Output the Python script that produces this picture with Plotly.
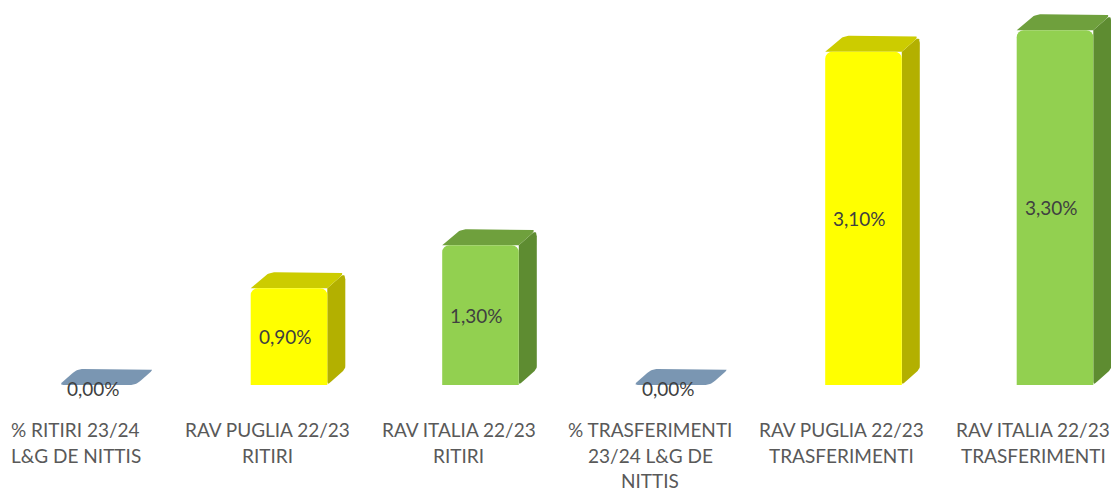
import math
import plotly.graph_objects as go

# ---- data ----
label_lines = [
    ["% RITIRI 23/24", "L&G DE NITTIS"],
    ["RAV PUGLIA 22/23", "RITIRI"],
    ["RAV ITALIA 22/23", "RITIRI"],
    ["% TRASFERIMENTI", "23/24 L&G DE", "NITTIS"],
    ["RAV PUGLIA 22/23", "TRASFERIMENTI"],
    ["RAV ITALIA 22/23", "TRASFERIMENTI"],
]
values = [0.00, 0.90, 1.30, 0.00, 3.10, 3.30]
value_labels = ["0,00%", "0,90%", "1,30%", "0,00%", "3,10%", "3,30%"]

# ---- styles ----
front_colors = ["#7A96B2", "#FFFF00", "#92D050", "#7A96B2", "#FFFF00", "#92D050"]
side_colors = ["#7A96B2", "#B3B000", "#5E8C31", "#7A96B2", "#B3B000", "#5E8C31"]
top_colors = ["#7A96B2", "#CCCC00", "#6FA03D", "#7A96B2", "#CCCC00", "#6FA03D"]

W_PX, H_PX = 1111, 491
PX_PER_X = 191.5
PX_PER_Y = 107.5
X0_PX = 97.5
BASE_PX = 385
BAR_W = 0.40
DX = 18 / PX_PER_X
DY = 16 / PX_PER_Y

xr_lo = -X0_PX / PX_PER_X
xr_hi = (W_PX - X0_PX) / PX_PER_X
yr_hi = BASE_PX / PX_PER_Y
yr_lo = -(H_PX - BASE_PX) / PX_PER_Y


def rounded(xs_, ys_, radii):
    """Round polygon corners (radius in px) – returns data-space outline."""
    pts = [(x * PX_PER_X, y * PX_PER_Y) for x, y in zip(xs_, ys_)]
    n = len(pts)
    ox, oy = [], []
    for k in range(n):
        r = radii[k]
        p = pts[k]
        if r <= 0:
            ox.append(p[0]); oy.append(p[1]); continue
        a, b = pts[k - 1], pts[(k + 1) % n]
        da = math.hypot(a[0] - p[0], a[1] - p[1])
        db = math.hypot(b[0] - p[0], b[1] - p[1])
        ra, rb = min(r, da / 2), min(r, db / 2)
        s = (p[0] + (a[0] - p[0]) * ra / da, p[1] + (a[1] - p[1]) * ra / da)
        e = (p[0] + (b[0] - p[0]) * rb / db, p[1] + (b[1] - p[1]) * rb / db)
        for t in [j / 8 for j in range(9)]:
            qx = (1 - t) ** 2 * s[0] + 2 * (1 - t) * t * p[0] + t ** 2 * e[0]
            qy = (1 - t) ** 2 * s[1] + 2 * (1 - t) * t * p[1] + t ** 2 * e[1]
            ox.append(qx); oy.append(qy)
    ox.append(ox[0]); oy.append(oy[0])
    return [x / PX_PER_X for x in ox], [y / PX_PER_Y for y in oy]


xs = list(range(len(values)))
fig = go.Figure()

# depth faces (side and top) on base axes
for i, v in zip(xs, values):
    xl, xr = i - BAR_W / 2, i + BAR_W / 2
    if v > 0:
        sx, sy = rounded([xr, xr + DX, xr + DX, xr], [0, DY, v + DY, v], [3, 3, 7, 0])
        fig.add_trace(go.Scatter(
            x=sx, y=sy, fill="toself", fillcolor=side_colors[i], mode="lines",
            line=dict(width=0), hoverinfo="skip", showlegend=False))
        tx, ty = rounded([xl, xl + DX, xr + DX, xr], [v, v + DY, v + DY, v], [0, 7, 7, 0])
        fig.add_trace(go.Scatter(
            x=tx, y=ty, fill="toself", fillcolor=top_colors[i], mode="lines",
            line=dict(width=0), hoverinfo="skip", showlegend=False))
    else:
        zx, zy = rounded([xl, xl + DX, xr + DX, xr], [0, DY, DY, 0], [4, 6, 4, 6])
        fig.add_trace(go.Scatter(
            x=zx, y=zy, fill="toself", fillcolor=top_colors[i], mode="lines",
            line=dict(width=0), hoverinfo="skip", showlegend=False))

# front faces on overlay axes (drawn on top)
fig.add_trace(go.Bar(
    x=xs, y=values, width=BAR_W, marker=dict(color=front_colors, line=dict(width=0)),
    xaxis="x2", yaxis="y2", hoverinfo="skip", showlegend=False))

# value labels
for i, v in zip(xs, values):
    fig.add_annotation(x=i, y=v / 2, xref="x2", yref="y2", text=value_labels[i],
                       showarrow=False, xshift=-4, yshift=(-3 if v == 0 else 0),
                       font=dict(family="Lato", size=19, color="#404040"))

# category labels
line_px = [429, 455, 480]
for i, lines in enumerate(label_lines):
    for k, t in enumerate(lines):
        fig.add_annotation(x=i, y=1 - line_px[k] / H_PX, xref="x2", yref="paper",
                           text=t, showarrow=False, xshift=-22, yanchor="middle",
                           font=dict(family="Lato", size=19, color="#595959"))

axis_common = dict(showgrid=False, zeroline=False, showticklabels=False, showline=False, ticks="")
fig.update_layout(
    width=W_PX, height=H_PX,
    margin=dict(l=0, r=0, t=0, b=0),
    paper_bgcolor="white", plot_bgcolor="white",
    barcornerradius=7,
    xaxis=dict(range=[xr_lo, xr_hi], **axis_common),
    yaxis=dict(range=[yr_lo, yr_hi], **axis_common),
    xaxis2=dict(range=[xr_lo, xr_hi], overlaying="x", **axis_common),
    yaxis2=dict(range=[yr_lo, yr_hi], overlaying="y", **axis_common),
)

fig.write_html("out.html", config={"displayModeBar": False},
               post_script="document.body.style.margin='0px';document.body.style.overflow='hidden';")
